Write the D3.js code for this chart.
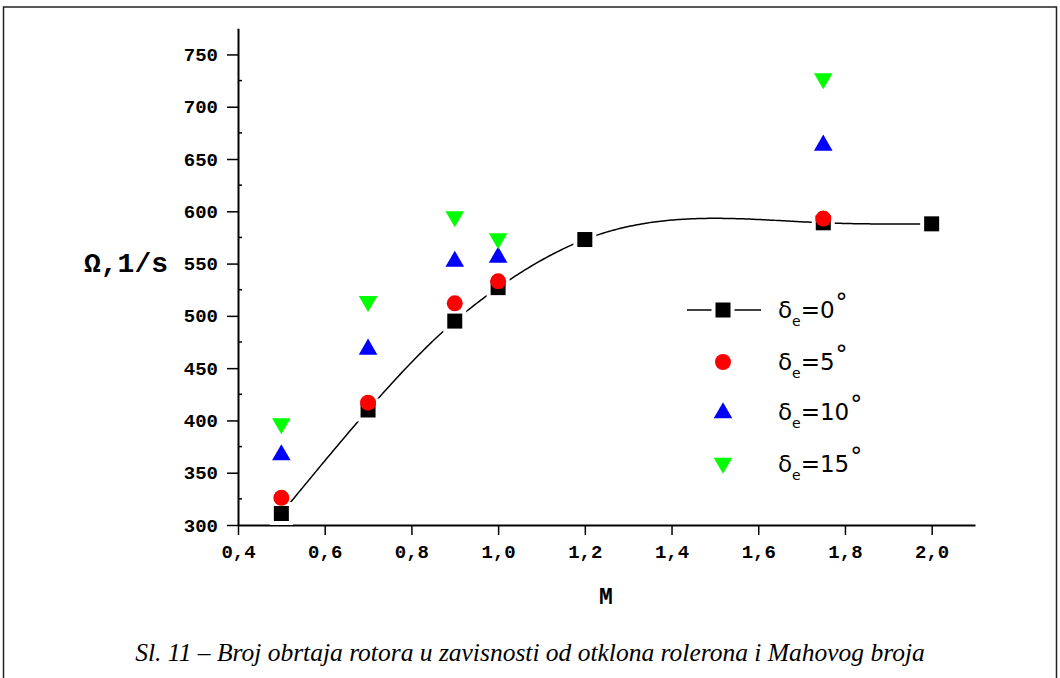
<!DOCTYPE html>
<html><head><meta charset="utf-8">
<script src="https://cdn.jsdelivr.net/npm/d3@7"></script>
<style>body{margin:0;background:#fff}svg{display:block}</style>
</head><body>
<svg id="c" width="1060" height="678"></svg>
<script>
// ---- data ----
const machX = [0.5, 0.7, 0.9, 1.0, 1.2, 1.75, 2.0];
const omega0 = [311, 410, 495, 527, 573, 589, 588];
const machX5 = [0.5, 0.7, 0.9, 1.0, 1.75];
const omega5 = [326, 417, 512, 533, 593];
const omega10 = [368, 469, 553, 557, 664];
const omega15 = [396, 513, 594, 573, 726];
const xTicks = [0.4, 0.6, 0.8, 1.0, 1.2, 1.4, 1.6, 1.8, 2.0];
const yTicks = [300, 350, 400, 450, 500, 550, 600, 650, 700, 750];
const legendLabels = ["0", "5", "10", "15"];
const yTitle = "\u03A9,1/s";
const xTitle = "M";
const caption = "Sl. 11 \u2013 Broj obrtaja rotora u zavisnosti od otklona rolerona i Mahovog broja";

const svg = d3.select("#c");
const x = d3.scaleLinear().domain([0.4, 2.1]).range([238, 975]);
const y = d3.scaleLinear().domain([300, 775]).range([525, 28.3]);
const mono = "'Liberation Mono','Courier New',monospace";

// frame
svg.append("rect").attr("x", 3.5).attr("y", 7).attr("width", 1053).attr("height", 720)
  .attr("fill", "none").attr("stroke", "#222").attr("stroke-width", 1.5);

// axes
const gx = svg.append("g").attr("transform", "translate(0,525)")
  .call(d3.axisBottom(x).tickValues(xTicks).tickSize(10).tickPadding(10)
    .tickFormat(d => d3.format(".1f")(d).replace(".", ",")).tickSizeOuter(0));
gx.select(".domain").attr("stroke-width", 2);
gx.selectAll(".tick line").attr("stroke-width", 1.5);
gx.selectAll("text").attr("font-family", mono).attr("font-weight", "bold").attr("font-size", 19).attr("fill", "#000");

const gy = svg.append("g").attr("transform", "translate(238,0)")
  .call(d3.axisLeft(y).tickValues(yTicks).tickSize(11).tickPadding(9).tickSizeOuter(0));
gy.select(".domain").attr("stroke-width", 2);
gy.selectAll(".tick line").attr("stroke-width", 1.5);
gy.selectAll("text").attr("font-family", mono).attr("font-weight", "bold").attr("font-size", 19).attr("fill", "#000");
// minor ticks
const minorY = d3.range(325, 775, 50);
svg.append("g").selectAll("line").data(minorY).join("line")
  .attr("x1", 238).attr("x2", 242).attr("y1", d => y(d)).attr("y2", d => y(d))
  .attr("stroke", "#000").attr("stroke-width", 1.5);

// titles
svg.append("text").attr("x", 84).attr("y", 272).text(yTitle)
  .attr("font-family", mono).attr("font-weight", "bold").attr("font-size", 28);
svg.append("text").attr("x", 606).attr("y", 604).attr("text-anchor", "middle").text(xTitle)
  .attr("font-family", mono).attr("font-weight", "bold").attr("font-size", 23);
svg.append("text").attr("x", 530).attr("y", 661).attr("text-anchor", "middle").text(caption)
  .attr("font-family", "'Liberation Serif','Times New Roman',serif").attr("font-style", "italic").attr("font-size", 25.5);

// natural cubic spline y(x) through the δ=0 points (drawing helper)
function naturalSpline(xs, ys) {
  const n = xs.length, h = [], al = [], l = [], mu = [0], z = [0];
  const c = new Array(n).fill(0), b = [], d = [];
  for (let i = 0; i < n - 1; i++) h[i] = xs[i + 1] - xs[i];
  for (let i = 1; i < n - 1; i++) {
    al[i] = 3 / h[i] * (ys[i + 1] - ys[i]) - 3 / h[i - 1] * (ys[i] - ys[i - 1]);
    l[i] = 2 * (xs[i + 1] - xs[i - 1]) - h[i - 1] * mu[i - 1];
    mu[i] = h[i] / l[i];
    z[i] = (al[i] - h[i - 1] * z[i - 1]) / l[i];
  }
  for (let j = n - 2; j >= 0; j--) {
    c[j] = j === 0 ? 0 : z[j] - mu[j] * c[j + 1];
    b[j] = (ys[j + 1] - ys[j]) / h[j] - h[j] * (c[j + 1] + 2 * c[j]) / 3;
    d[j] = (c[j + 1] - c[j]) / (3 * h[j]);
  }
  return t => {
    const i = Math.max(0, Math.min(n - 2, d3.bisectRight(xs, t) - 1));
    const dx = t - xs[i];
    return ys[i] + b[i] * dx + c[i] * dx * dx + d[i] * dx * dx * dx;
  };
}
const f0 = naturalSpline(machX, omega0);
const curveXs = d3.range(machX[0], machX[machX.length - 1] + 1e-9, 0.005);
const line = d3.line().x(d => x(d)).y(d => y(f0(d)));
svg.append("path").attr("d", line(curveXs)).attr("fill", "none").attr("stroke", "#000").attr("stroke-width", 1.5);

const pts0 = machX.map((m, i) => [m, omega0[i]]);
const SQ = 15, HALO = 23;
function square(g, cx, cy) {
  g.append("rect").attr("x", cx - HALO / 2).attr("y", cy - HALO / 2).attr("width", HALO).attr("height", HALO).attr("fill", "#fff");
  g.append("rect").attr("x", cx - SQ / 2).attr("y", cy - SQ / 2).attr("width", SQ).attr("height", SQ).attr("fill", "#000");
}
const triUp = d3.symbol().type(d3.symbolTriangle).size(150);
function tri(g, cx, cy, color, down) {
  g.append("path").attr("d", triUp()).attr("fill", color)
    .attr("transform", `translate(${cx},${cy + (down ? -1 : 1)}) rotate(${down ? 180 : 0})`);
}

const marks = svg.append("g");
pts0.forEach(p => square(marks, x(p[0]), y(p[1])));
machX5.forEach((m, i) => marks.append("circle").attr("cx", x(m)).attr("cy", y(omega5[i])).attr("r", 8).attr("fill", "#ff0000"));
machX5.forEach((m, i) => tri(marks, x(m), y(omega10[i]), "#0000ff", false));
machX5.forEach((m, i) => tri(marks, x(m), y(omega15[i]), "#00ff00", true));

// legend
const lg = svg.append("g");
const rows = [310, 362, 412, 464];
lg.append("line").attr("x1", 687).attr("x2", 761).attr("y1", rows[0]).attr("y2", rows[0]).attr("stroke", "#000").attr("stroke-width", 1.5);
square(lg, 723, rows[0]);
lg.append("circle").attr("cx", 723).attr("cy", rows[1]).attr("r", 8).attr("fill", "#ff0000");
tri(lg, 723, rows[2], "#0000ff", false);
tri(lg, 723, rows[3], "#00ff00", true);
legendLabels.forEach((lab, i) => {
  const t = lg.append("text").attr("x", 778).attr("y", rows[i] + 8)
    .attr("font-family", "'DejaVu Sans',Verdana,sans-serif").attr("font-size", 23).attr("fill", "#000");
  t.append("tspan").text("\u03B4");
  t.append("tspan").attr("dy", 8).attr("font-size", 14).text("e");
  t.append("tspan").attr("dy", -8).text("=" + lab);
  t.append("tspan").attr("dy", -7).attr("dx", 1).attr("font-size", 24).text("\u00B0");
});
</script>
</body></html>
